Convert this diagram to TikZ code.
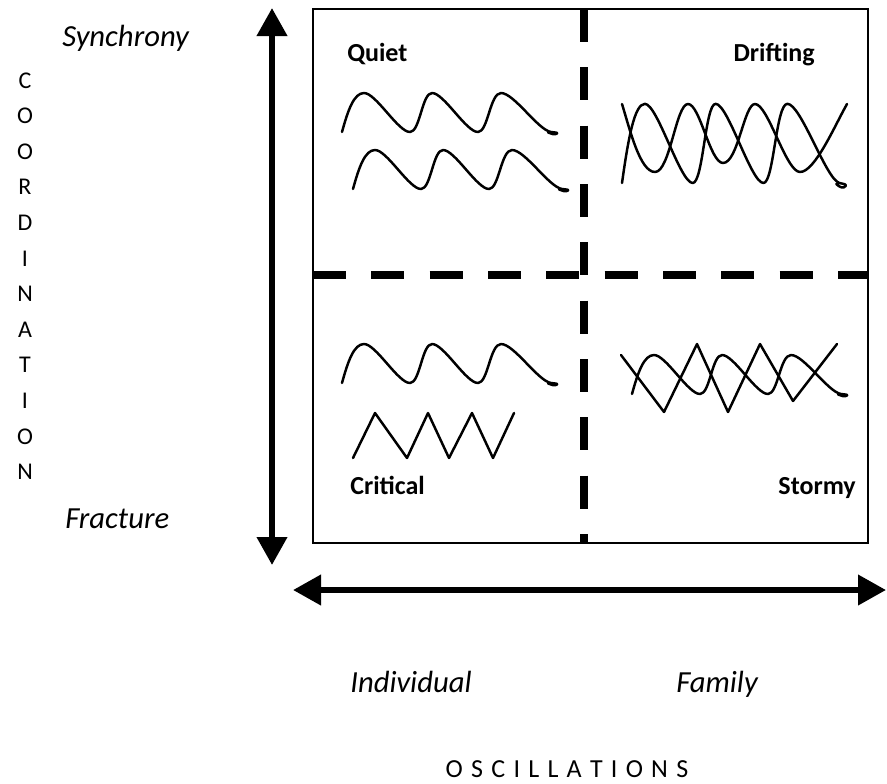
\documentclass[tikz,border=0pt]{standalone}
\usepackage{fontspec}
\setmainfont{Carlito}
\usetikzlibrary{arrows.meta}
\newcommand{\wavecurve}{(0,0) .. controls (6,-22) and (12,-39) .. (22,-39)
  .. controls (34,-39) and (56,0) .. (68,0)
  .. controls (78,0) and (80,-39) .. (90,-39)
  .. controls (102,-39) and (124,0) .. (136,0)
  .. controls (146,0) and (148,-39) .. (159,-39)
  .. controls (172,-39) and (196,-2) .. (209,0)
  .. controls (213,0.5) and (216,0.5) .. (215,1.5)
  .. controls (213,3) and (209,2) .. (206,0.5)}
\newcommand{\lgap}{\hspace{6.2pt}}
\begin{document}
\begin{tikzpicture}[x=0.75pt,y=-0.75pt,
  axis/.style={line width=4.5pt,{Triangle[length=21pt,width=22pt]}-{Triangle[length=21pt,width=22pt]}},
  divider/.style={line width=5.5pt,dash pattern=on 24.75pt off 19pt},
  frame/.style={line width=1.5pt},
  wave/.style={line width=1.85pt,line join=round,line cap=round},
  quad/.style={font=\fontsize{19.5}{23}\selectfont\bfseries,inner sep=0pt},
  pole/.style={font=\fontsize{23}{27}\selectfont\itshape,inner sep=0pt},
  letter/.style={font=\fontsize{18}{21}\selectfont,inner sep=0pt},
  caption/.style={font=\fontsize{19.5}{23}\selectfont,inner sep=0pt}]
\useasboundingbox (0,0) rectangle (887,783);

% frame and dividers
\draw[frame] (313,9) rectangle (868,543);
\draw[divider] (584,9) -- (584,543);
\draw[divider] (313,275) -- (868,275);

% axes
\coordinate (ytop) at (272,8);
\coordinate (ybot) at (272,565);
\coordinate (xleft) at (293,590);
\coordinate (xright) at (886,590);
\draw[axis] (ybot) -- (ytop);
\draw[axis] (xleft) -- (xright);

% axis texts
\node[pole,anchor=base west] (sync) at (62,46) {Synchrony};
\node[pole,anchor=base west] (frac) at (65,528) {Fracture};
\node[pole,anchor=base west] (indiv) at (350,692) {Individual};
\node[pole,anchor=base east] (fam) at (758,692) {Family};
\node[caption,anchor=base] (osc) at (567,777)
  {O\lgap S\lgap C\lgap I\lgap L\lgap L\lgap A\lgap T\lgap I\lgap O\lgap N\lgap S};
\foreach \ch [count=\i from 0] in {C,O,O,R,D,I,N,A,T,I,O,N}
  \node[letter,anchor=base] (coord\i) at (25,{88+35.6*\i}) {\ch};

% quadrant labels
\node[quad,anchor=base west] (quiet) at (347,61) {Quiet};
\node[quad,anchor=base east] (drift) at (815,61) {Drifting};
\node[quad,anchor=base west] (crit) at (350,494) {Critical};
\node[quad,anchor=base east] (storm) at (856,494) {Stormy};

% Quiet
\begin{scope}[shift={(342,132)}]\draw[wave] \wavecurve;\end{scope}
\begin{scope}[shift={(353,189)}]\draw[wave] \wavecurve;\end{scope}

% Drifting
\begin{scope}[shift={(622,183)},xscale=1.04,yscale=2.03]\draw[wave] \wavecurve;\end{scope}
\draw[wave] (622,104) .. controls (630,130) and (640,172) .. (655,172)
  .. controls (670,172) and (676,104) .. (688,104)
  .. controls (700,104) and (710,163) .. (723,163)
  .. controls (738,163) and (744,104) .. (755,104)
  .. controls (768,104) and (786,172) .. (800,172)
  .. controls (815,172) and (835,125) .. (847,104);

% Critical
\begin{scope}[shift={(342,383)}]\draw[wave] \wavecurve;\end{scope}
\draw[wave] (353,458) -- (375,413) -- (407,458) -- (428,413) -- (449,458)
  -- (472,413) -- (493,458) -- (514,413);

% Stormy
\begin{scope}[shift={(632,394)}]\draw[wave] \wavecurve;\end{scope}
\draw[wave] (621,355) -- (664,412) -- (697,344) -- (728,412) -- (760,344)
  -- (793,401) -- (837,344);
\end{tikzpicture}
\end{document}
